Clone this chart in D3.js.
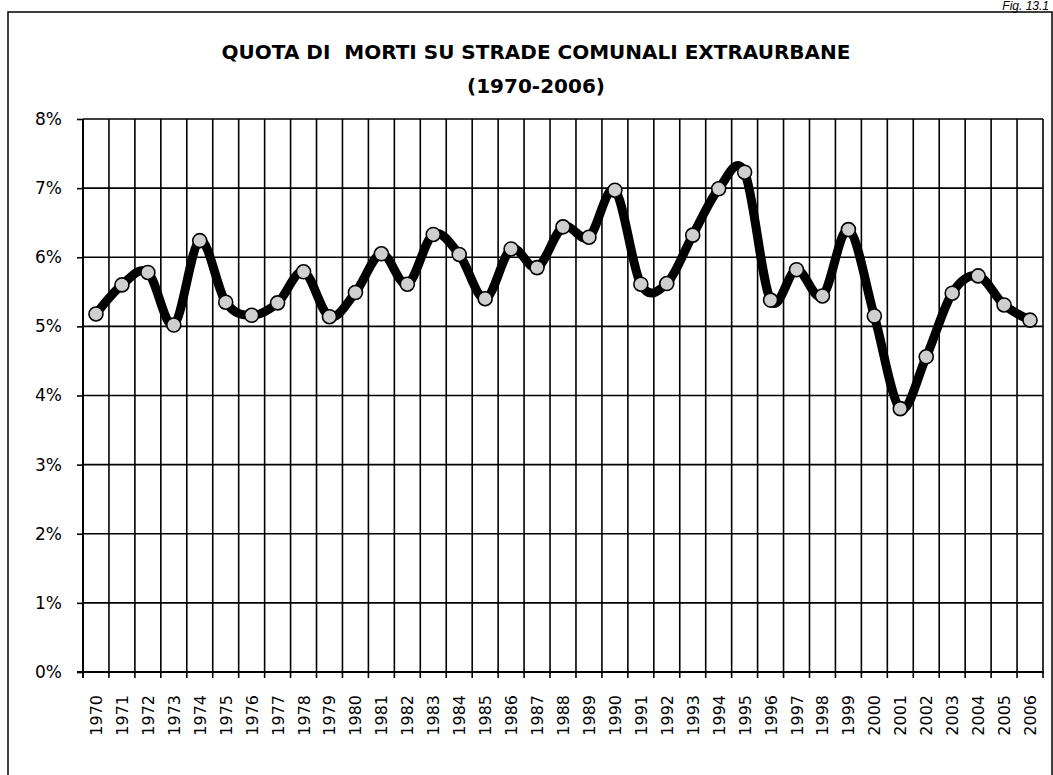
<!DOCTYPE html>
<html>
<head>
<meta charset="utf-8">
<script src="https://cdn.jsdelivr.net/npm/d3@7"></script>
<style>
  html, body { margin: 0; padding: 0; background: #fff; }
  svg { display: block; }
</style>
</head>
<body>
<svg id="chart" width="1053" height="775"></svg>
<script>
const years = ["1970","1971","1972","1973","1974","1975","1976","1977","1978","1979",
  "1980","1981","1982","1983","1984","1985","1986","1987","1988","1989",
  "1990","1991","1992","1993","1994","1995","1996","1997","1998","1999",
  "2000","2001","2002","2003","2004","2005","2006"];
const shares = [5.18, 5.60, 5.78, 5.02, 6.24, 5.35, 5.16, 5.34, 5.79, 5.14,
  5.49, 6.05, 5.61, 6.33, 6.04, 5.40, 6.12, 5.85, 6.44, 6.29,
  6.97, 5.61, 5.62, 6.32, 6.99, 7.23, 5.38, 5.82, 5.44, 6.40,
  5.15, 3.81, 4.56, 5.48, 5.73, 5.31, 5.09];
const yTicks = [0, 1, 2, 3, 4, 5, 6, 7, 8];
const titleLines = ["QUOTA DI  MORTI SU STRADE COMUNALI EXTRAURBANE", "(1970-2006)"];
const figLabel = "Fig. 13.1";

(function () {
const svg = d3.select("#chart");
const pL = 83, pR = 1043, pT = 119, pB = 672;

// outer frame
svg.append("path")
  .attr("d", `M8,776 L8,12 L1052,12 L1052,776`)
  .attr("fill", "none").attr("stroke", "#000").attr("stroke-width", 1.5);

svg.append("text")
  .attr("x", 1049).attr("y", 10)
  .attr("text-anchor", "end")
  .attr("font-family", "Liberation Sans, Arial, sans-serif")
  .attr("font-size", 12).attr("font-style", "italic")
  .text(figLabel);

// title
svg.append("g").selectAll("text").data(titleLines).enter().append("text")
  .attr("x", 536).attr("y", (d, i) => i === 0 ? 59 : 93)
  .attr("text-anchor", "middle")
  .attr("font-family", "DejaVu Sans, sans-serif")
  .attr("font-weight", "bold")
  .attr("font-size", 20)
  .style("white-space", "pre")
  .text(d => d);

const x = d3.scaleBand().domain(years).range([pL, pR]).paddingInner(0).paddingOuter(0);
const y = d3.scaleLinear().domain([0, 8]).range([pB, pT]);

// horizontal gridlines
svg.append("g").selectAll("line").data(yTicks.filter(t => t > 0)).enter().append("line")
  .attr("x1", pL).attr("x2", pR)
  .attr("y1", d => y(d)).attr("y2", d => y(d))
  .attr("stroke", "#000").attr("stroke-width", 1.6);

// vertical gridlines at category boundaries
const bounds = years.map(yr => x(yr)).concat([x(years[years.length - 1]) + x.bandwidth()]);
svg.append("g").selectAll("line").data(bounds.slice(1)).enter().append("line")
  .attr("x1", d => d).attr("x2", d => d)
  .attr("y1", pT).attr("y2", pB + 6)
  .attr("stroke", "#000").attr("stroke-width", 1.6);

// y axis
const yAxis = d3.axisLeft(y).tickValues(yTicks).tickFormat(d => d + "%").tickSize(6).tickPadding(15);
const gy = svg.append("g").attr("transform", `translate(${pL},0)`).call(yAxis);
gy.select(".domain").attr("stroke-width", 2).attr("d", `M0,${pT}V${pB + 6}`);
gy.selectAll(".tick line").attr("stroke-width", 1.6);
gy.selectAll("text").attr("font-family", "DejaVu Sans, sans-serif").attr("font-size", 17).attr("fill", "#000");

// x axis
svg.append("line")
  .attr("x1", pL - 6).attr("x2", pR + 1)
  .attr("y1", pB).attr("y2", pB)
  .attr("stroke", "#000").attr("stroke-width", 2);

svg.append("g").selectAll("text").data(years).enter().append("text")
  .attr("transform", d => `translate(${x(d) + x.bandwidth() / 2 + 6},${pB + 23}) rotate(-90)`)
  .attr("text-anchor", "end")
  .attr("font-family", "DejaVu Sans, sans-serif")
  .attr("font-size", 16)
  .text(d => d);

// line
const pts = years.map((yr, i) => [x(yr) + x.bandwidth() / 2, y(shares[i])]);
svg.append("path")
  .attr("d", d3.line().curve(d3.curveCatmullRom.alpha(0))(pts))
  .attr("fill", "none").attr("stroke", "#000").attr("stroke-width", 9)
  .attr("stroke-linejoin", "round").attr("stroke-linecap", "round");

svg.append("g").selectAll("circle").data(years).enter().append("circle")
  .attr("cx", d => x(d) + x.bandwidth() / 2)
  .attr("cy", (d, i) => y(shares[i]))
  .attr("r", 7)
  .attr("fill", "#cfcfcf").attr("stroke", "#000").attr("stroke-width", 1.6);
})();
</script>
</body>
</html>
